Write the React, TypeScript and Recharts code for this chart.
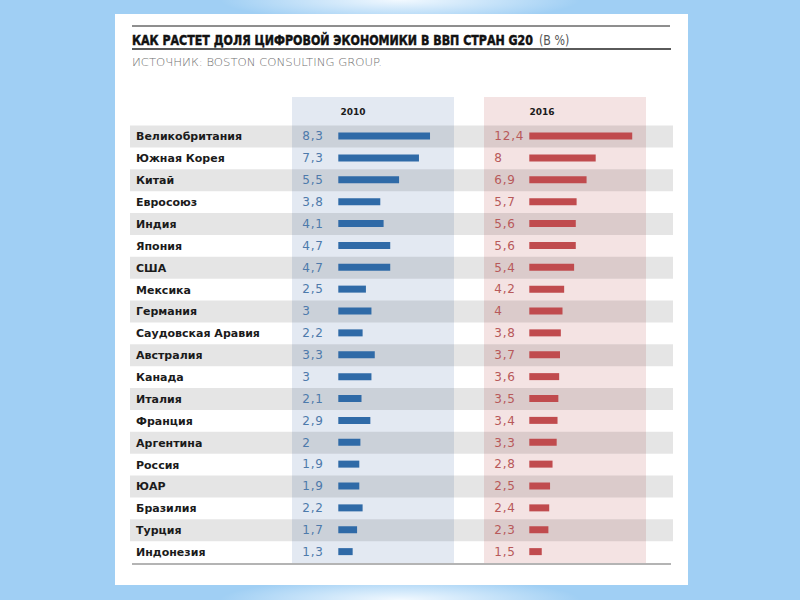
import { BarChart, Bar, XAxis, YAxis, ReferenceArea, LabelList } from 'recharts';

const countries = [
  'Великобритания',
  'Южная Корея',
  'Китай',
  'Евросоюз',
  'Индия',
  'Япония',
  'США',
  'Мексика',
  'Германия',
  'Саудовская Аравия',
  'Австралия',
  'Канада',
  'Италия',
  'Франция',
  'Аргентина',
  'Россия',
  'ЮАР',
  'Бразилия',
  'Турция',
  'Индонезия',
];
const share2010 = [8.3, 7.3, 5.5, 3.8, 4.1, 4.7, 4.7, 2.5, 3, 2.2, 3.3, 3, 2.1, 2.9, 2, 1.9, 1.9, 2.2, 1.7, 1.3];
const share2016 = [12.4, 8, 6.9, 5.7, 5.6, 5.6, 5.4, 4.2, 4, 3.8, 3.7, 3.6, 3.5, 3.4, 3.3, 2.8, 2.5, 2.4, 2.3, 1.5];
const years = ['2010', '2016'];

const title = 'КАК РАСТЕТ ДОЛЯ ЦИФРОВОЙ ЭКОНОМИКИ В ВВП СТРАН G20';
const titleUnit = '(В %)';
const source = 'ИСТОЧНИК: BOSTON CONSULTING GROUP.';

const data = countries.map((country, i) => ({
  country,
  v2010: share2010[i],
  v2016: share2016[i],
}));

// plot area spans the row stripes; each numeric axis is shifted so its zero
// lands at the start of its own column
const PLOT_LEFT = 130;
const PLOT_RIGHT = 673;
const NAME_AXIS_W = 6;
const axisDomain = (zeroX: number, pxPerUnit: number): [number, number] => [
  (PLOT_LEFT - zeroX) / pxPerUnit,
  (PLOT_RIGHT - zeroX) / pxPerUnit,
];

const BLUE = '#2f6aa7';
const RED = '#c04b4e';
const BLUE_TEXT = '#4d7aab';
const RED_TEXT = '#b8595a';

const fmt = (v: number) => String(v).replace('.', ',');

const NameTick = (props: any) => {
  const { y, payload } = props;
  return (
    <text
      x={136}
      y={y}
      dy="0.36em"
      fontFamily="'DejaVu Sans', sans-serif"
      fontWeight="bold"
      fontSize={11}
      fill="#1b1b1b"
    >
      {payload.value}
    </text>
  );
};

const valueLabel = (shift: number, color: string) => (props: any) => {
  const { x, y, height, value } = props;
  return (
    <text
      x={Number(x) - shift}
      y={Number(y) + Number(height) / 2}
      dy="0.36em"
      fontFamily="'DejaVu Sans', sans-serif"
      fontSize={12}
      letterSpacing={0.8}
      fill={color}
    >
      {fmt(value)}
    </text>
  );
};

export default function App() {
  return (
    <div
      style={{
        position: 'absolute',
        left: 0,
        top: 0,
        width: 800,
        height: 600,
        overflow: 'hidden',
        background:
          'radial-gradient(ellipse 180px 22px at 400px 0px, #f2f9ff, rgba(255,255,255,0)), radial-gradient(ellipse 180px 22px at 400px 600px, #f2f9ff, rgba(255,255,255,0)), #a0cff4',
      }}
    >
      <div style={{ position: 'absolute', left: 115, top: 14, width: 573, height: 571, background: '#fff' }} />
      <div style={{ position: 'absolute', left: 292, top: 97, width: 162, height: 466, background: '#e3e9f2' }} />
      <div style={{ position: 'absolute', left: 484, top: 97, width: 162, height: 466, background: '#f4e3e3' }} />

      <div style={{ position: 'absolute', left: 0, top: 0 }}>
        <BarChart
          width={800}
          height={600}
          data={data}
          layout="vertical"
          margin={{ top: 125.5, right: 800 - PLOT_RIGHT, bottom: 37, left: PLOT_LEFT - NAME_AXIS_W }}
          barCategoryGap={0}
        >
          <XAxis xAxisId="a" type="number" hide domain={axisDomain(338.3, 11.05)} allowDataOverflow />
          <XAxis xAxisId="b" type="number" hide domain={axisDomain(529.3, 8.3)} allowDataOverflow />
          <YAxis
            yAxisId="names"
            type="category"
            dataKey="country"
            width={NAME_AXIS_W}
            axisLine={false}
            tickLine={false}
            interval={0}
            tick={(p: any) => <NameTick {...p} />}
          />
          <YAxis yAxisId="b" type="category" dataKey="country" hide />
          {countries
            .filter((_, i) => i % 2 === 0)
            .map((c) => (
              <ReferenceArea
                key={c}
                xAxisId="a"
                yAxisId="names"
                y1={c}
                y2={c}
                fill="#000"
                fillOpacity={0.1}
                stroke="none"
              />
            ))}
          <Bar dataKey="v2010" xAxisId="a" yAxisId="names" fill={BLUE} barSize={7} isAnimationActive={false}>
            <LabelList dataKey="v2010" content={valueLabel(36, BLUE_TEXT)} />
          </Bar>
          <Bar dataKey="v2016" xAxisId="b" yAxisId="b" fill={RED} barSize={7} isAnimationActive={false}>
            <LabelList dataKey="v2016" content={valueLabel(35, RED_TEXT)} />
          </Bar>
        </BarChart>
      </div>

      <svg width={800} height={600} style={{ position: 'absolute', left: 0, top: 0, pointerEvents: 'none' }}>
        <line x1={132} x2={670} y1={26} y2={26} stroke="#1f1f1f" strokeWidth={1} />
        <g transform="translate(132 44.5) scale(1 1.18)">
          <text
            x={0}
            y={0}
            fontFamily="'DejaVu Sans Condensed', sans-serif"
            fontWeight="bold"
            fontSize={12.3}
            fill="#111"
            stroke="#111"
            strokeWidth={0.4}
          >
            {title}
          </text>
          <text x={407} y={0} fontFamily="'DejaVu Sans Condensed', sans-serif" fontSize={12.3} fill="#555">
            {titleUnit}
          </text>
        </g>
        <line x1={132} x2={671} y1={49} y2={49} stroke="#5a5a5a" strokeWidth={2} />
        <text
          x={132}
          y={65.5}
          textLength={250}
          lengthAdjust="spacingAndGlyphs"
          fontFamily="'DejaVu Sans', sans-serif"
          fontWeight={200}
          fontSize={10}
          fill="#707070"
        >
          {source}
        </text>
        <text x={353} y={112} dy="0.36em" textAnchor="middle" fontFamily="'DejaVu Sans', sans-serif" fontWeight="bold" fontSize={9} fill="#1b1b1b">
          {years[0]}
        </text>
        <text x={542} y={112} dy="0.36em" textAnchor="middle" fontFamily="'DejaVu Sans', sans-serif" fontWeight="bold" fontSize={9} fill="#1b1b1b">
          {years[1]}
        </text>
        <line x1={132} x2={671} y1={564} y2={564} stroke="#6a6a6a" strokeWidth={1.2} />
      </svg>
    </div>
  );
}
